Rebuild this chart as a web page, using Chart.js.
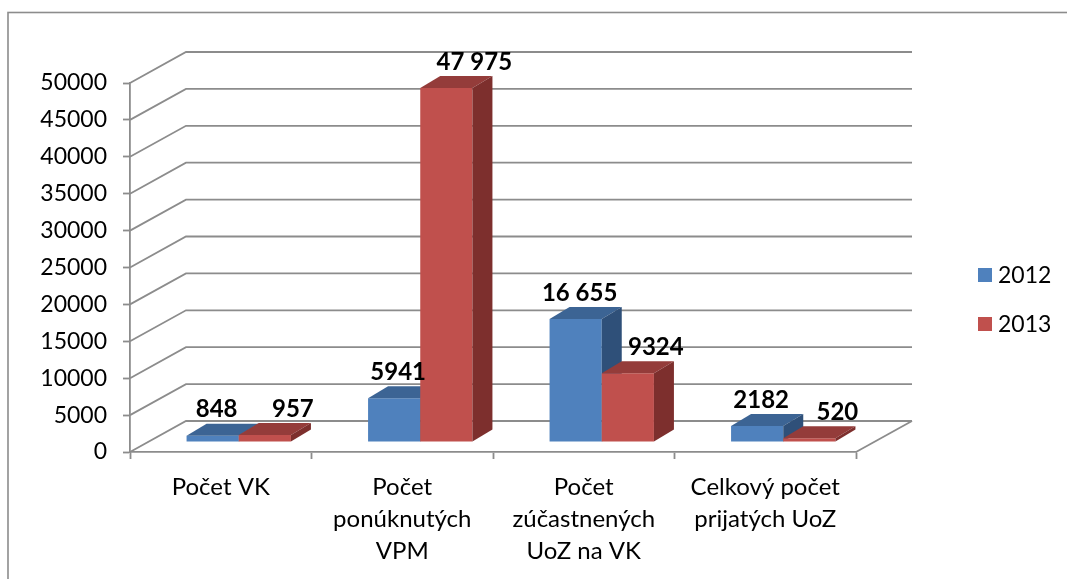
<!DOCTYPE html>
<html>
<head>
<meta charset="utf-8">
<script src="https://cdn.jsdelivr.net/npm/chart.js@4.4.1/dist/chart.umd.min.js"></script>
<style>
    html, body { margin: 0; padding: 0; background: #fff; }
    #wrap { position: absolute; left: 0; top: 0; width: 1067px; height: 579px; }
</style>
</head>
<body>
<div id="wrap"><canvas id="chart"></canvas></div>
<script>
const categories = [
    'Počet VK',
    ['Počet', 'ponúknutých', 'VPM'],
    ['Počet', 'zúčastnených', 'UoZ na VK'],
    ['Celkový počet', 'prijatých UoZ']
];
const seriesNames = ['2012', '2013'];
const values2012 = [848, 5941, 16655, 2182];
const values2013 = [957, 47975, 9324, 520];
const yMax = 50000;
const yStep = 5000;

const FONT = 'Lato';
const GRID = '#8c8c8c';

// face colours: front, top, side
const faces = [
    { front: '#4f81bd', top: '#3c6494', side: '#2f5079' },
    { front: '#c0504d', top: '#943c3a', side: '#7d2f2d' }
];

// 3D offsets (back wall, bar plane, bar depth)
const WALL = { dx: 56, dy: -31 };
const SHIFT = { dx: 18, dy: -10 };
const DEPTH = { dx: 20, dy: -12 };

function formatValue(v) {
    // 10 000 and up get a space as thousands separator
    if (v < 10000) return String(v);
    const s = String(v);
    return s.slice(0, s.length - 3) + ' ' + s.slice(-3);
}

function poly(ctx, pts, color) {
    ctx.beginPath();
    ctx.moveTo(pts[0][0], pts[0][1]);
    for (let i = 1; i < pts.length; i++) ctx.lineTo(pts[i][0], pts[i][1]);
    ctx.closePath();
    ctx.fillStyle = color;
    ctx.fill();
}

const threeD = {
    id: 'threeD',
    beforeDraw(chart) {
        const ctx = chart.ctx;
        ctx.save();
        ctx.strokeStyle = GRID;
        ctx.lineWidth = 1.6;
        ctx.strokeRect(8, 12.5, 1100, 600);
        ctx.restore();
    },
    beforeDatasetsDraw(chart) {
        const { ctx, chartArea: a, scales: { x, y } } = chart;
        const y0 = y.getPixelForValue(0);

        ctx.save();
        ctx.strokeStyle = GRID;
        ctx.lineWidth = 1.8;
        y.ticks.forEach(t => {
            const py = y.getPixelForValue(t.value);
            ctx.beginPath();
            ctx.moveTo(a.left, py);
            ctx.lineTo(a.left + WALL.dx, py + WALL.dy);
            ctx.lineTo(a.right + WALL.dx, py + WALL.dy);
            ctx.stroke();
        });
        ctx.beginPath();
        ctx.moveTo(a.right, y0);
        ctx.lineTo(a.right + WALL.dx, y0 + WALL.dy);
        ctx.stroke();

        // bars, category by category so the overlaps come out right
        const metas = chart.data.datasets.map((d, i) => chart.getDatasetMeta(i));
        for (let i = 0; i < categories.length; i++) {
            metas.forEach((meta, d) => {
                const el = meta.data[i];
                const c = faces[d];
                const x0 = el.x - el.width / 2 + SHIFT.dx;
                const x1 = el.x + el.width / 2 + SHIFT.dx;
                const top = el.y + SHIFT.dy;
                const base = el.base + SHIFT.dy;
                poly(ctx, [[x0, top], [x1, top], [x1, base], [x0, base]], c.front);
                poly(ctx, [[x0, top], [x0 + DEPTH.dx, top + DEPTH.dy],
                    [x1 + DEPTH.dx, top + DEPTH.dy], [x1, top]], c.top);
                poly(ctx, [[x1, top], [x1 + DEPTH.dx, top + DEPTH.dy],
                    [x1 + DEPTH.dx, base + DEPTH.dy], [x1, base]], c.side);
            });
        }
        ctx.restore();
        return false;
    },
    afterDraw(chart) {
        const ctx = chart.ctx;
        ctx.save();

        // value labels
        ctx.font = 'bold 24px ' + FONT;
        ctx.fillStyle = '#000';
        ctx.textAlign = 'center';
        ctx.textBaseline = 'middle';
        chart.data.datasets.forEach((ds, d) => {
            chart.getDatasetMeta(d).data.forEach((el, i) => {
                const lx = el.x + SHIFT.dx + (d === 0 ? 4 : 28);
                const ly = el.y + SHIFT.dy - 26;
                ctx.fillText(formatValue(ds.data[i]), lx, ly);
            });
        });

        // legend
        ctx.font = '23px ' + FONT;
        ctx.textAlign = 'left';
        chart.data.datasets.forEach((ds, d) => {
            const cy = 275 + d * 49;
            ctx.fillStyle = ds.backgroundColor;
            ctx.fillRect(978, cy - 7, 14, 14);
            ctx.fillStyle = '#000';
            ctx.fillText(ds.label, 998, cy + 1);
        });
        ctx.restore();
    }
};

function initializeChart() {
    const ctx = document.getElementById('chart').getContext('2d');
    const chart = new Chart(ctx, {
        type: 'bar',
        data: {
            labels: categories,
            datasets: [{
                label: seriesNames[0],
                data: values2012,
                backgroundColor: faces[0].front
            }, {
                label: seriesNames[1],
                data: values2013,
                backgroundColor: faces[1].front
            }]
        },
        options: {
            responsive: true,
            maintainAspectRatio: false,
            animation: false,
            categoryPercentage: 0.575,
            barPercentage: 1,
            layout: {
                padding: { top: 83, right: 211, bottom: 0, left: 0 }
            },
            plugins: {
                legend: { display: false },
                tooltip: { enabled: false }
            },
            scales: {
                x: {
                    grid: {
                        drawOnChartArea: false,
                        tickLength: 7,
                        tickColor: GRID,
                        tickWidth: 1.8
                    },
                    border: { color: GRID, width: 1.8 },
                    ticks: {
                        color: '#000',
                        padding: 12,
                        maxRotation: 0,
                        autoSkip: false,
                        font: { family: FONT, size: 24, lineHeight: 1.333 }
                    },
                    afterFit(scale) { scale.height = 127; }
                },
                y: {
                    min: 0,
                    max: yMax,
                    grid: {
                        drawOnChartArea: false,
                        tickLength: 7,
                        tickColor: GRID,
                        tickWidth: 1.8
                    },
                    border: { color: GRID, width: 1.8 },
                    ticks: {
                        stepSize: yStep,
                        color: '#000',
                        padding: 16,
                        font: { family: FONT, size: 23 },
                        callback: v => String(v)
                    },
                    afterFit(scale) { scale.width = 130; }
                }
            }
        },
        plugins: [threeD]
    });
    window.barChart = chart;
}

document.addEventListener('DOMContentLoaded', initializeChart);
</script>
</body>
</html>
